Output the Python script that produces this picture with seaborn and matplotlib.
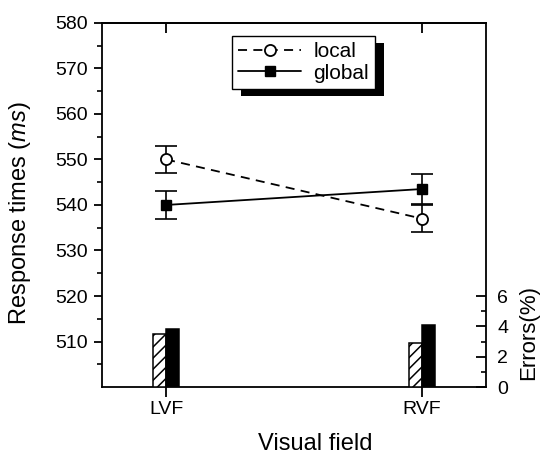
import numpy as np
import pandas as pd
import matplotlib
matplotlib.use("Agg")
import matplotlib.pyplot as plt
from matplotlib.patches import Rectangle
import seaborn as sns

# data
fields = ["LVF", "RVF"]
conditions = ["local", "global"]
rt_local = [550, 537]
rt_global = [540, 543.5]
se_local = [3, 3]
se_global = [3, 3.2]
err_local = [3.5, 2.9]
err_global = [3.8, 4.1]

sns.set_theme(style="ticks", rc={
    "axes.edgecolor": "black", "xtick.color": "black", "ytick.color": "black",
    "text.color": "black", "axes.labelcolor": "black",
})
plt.rcParams["font.family"] = ["Liberation Sans", "DejaVu Sans"]
plt.rcParams["mathtext.fontset"] = "custom"
plt.rcParams["mathtext.rm"] = "Liberation Sans"
plt.rcParams["mathtext.it"] = "Liberation Sans:italic"
plt.rcParams["hatch.linewidth"] = 1.1

fig = plt.figure(figsize=(5.46, 4.57), dpi=100)
ax = fig.add_axes([0.187, 0.153, 0.703, 0.797])
x = np.arange(len(fields))

# error rates as bars on the right axis
ax2 = ax.twinx()
err_df = pd.DataFrame({
    "field": fields * 2,
    "condition": ["local"] * 2 + ["global"] * 2,
    "errors": err_local + err_global,
})
sns.barplot(data=err_df, x="field", y="errors", hue="condition", hue_order=conditions,
            palette={"local": "white", "global": "black"}, saturation=1, width=0.1,
            edgecolor="black", linewidth=1.1, errorbar=None, legend=False, ax=ax2)
for p in ax2.patches:
    if p.get_facecolor()[0] > 0.5:
        p.set_hatch("///")

# response times
ax.errorbar(x, rt_local, yerr=se_local, fmt="none", ecolor="black",
            elinewidth=1.2, capsize=8, capthick=1.2, zorder=2)
ax.errorbar(x, rt_global, yerr=se_global, fmt="none", ecolor="black",
            elinewidth=1.2, capsize=8, capthick=1.2, zorder=2)
ax.plot(x, rt_local, ls=(0, (5, 3.5)), lw=1.3, color="black", marker="o", ms=8,
        mfc="white", mec="black", mew=1.3, label="local", zorder=3)
ax.plot(x, rt_global, ls="-", lw=1.3, color="black", marker="s", ms=7.5,
        mfc="black", mec="black", label="global", zorder=3)

ax.set_xlim(-0.25, 1.25)
ax.set_ylim(500, 580)
ax.set_xticks(x, fields, fontsize=14)
ax.set_yticks(range(510, 581, 10))
ax.set_yticks(range(505, 580, 10), minor=True)
ax.tick_params(axis="y", which="major", direction="out", length=6, width=1.3, pad=4, labelsize=14)
ax.tick_params(axis="y", which="minor", direction="out", length=3.5, width=1.2)
ax.tick_params(axis="x", direction="out", length=7, width=1.3, pad=3)
for s in ax.spines.values():
    s.set_visible(True)
    s.set_linewidth(1.3)

secx = ax.secondary_xaxis("top")
secx.set_xticks(x)
secx.tick_params(direction="in", length=7, width=1.3, labeltop=False)
secx.spines["top"].set_linewidth(1.3)

ax2.set_xlim(-0.25, 1.25)
ax2.set_ylim(0, 24)
ax2.set_yticks([0, 2, 4, 6])
ax2.set_yticks([1, 3, 5], minor=True)
ax2.tick_params(axis="y", which="major", direction="in", length=7, width=1.3, pad=8, labelsize=14)
ax2.tick_params(axis="y", which="minor", direction="in", length=3.5, width=1.2)
for s in ax2.spines.values():
    s.set_visible(False)
ax2.set_ylabel("Errors(%)", fontsize=16)
ax2.yaxis.set_label_coords(1.085, 0.151)

ax.set_xlabel("Visual field", fontsize=17)
ax.xaxis.set_label_coords(0.555, -0.126)
ax.set_ylabel("Response times ($\\mathit{ms}$)", fontsize=17)
ax.yaxis.set_label_coords(-0.18, 0.477)

leg = ax.legend(loc="upper left", bbox_to_anchor=(0.339, 0.964), borderaxespad=0,
                fancybox=False, framealpha=1, edgecolor="black", fontsize=15,
                handlelength=3.0, handletextpad=0.6, borderpad=0.3, labelspacing=0.12)
leg.get_frame().set_linewidth(1.0)
leg.set_zorder(5)

# solid black drop shadow behind the legend box
fig.canvas.draw()
bb = leg.get_window_extent().transformed(ax.transAxes.inverted())
ax.add_patch(Rectangle((bb.x0 + 9 / 384, bb.y0 - 7 / 364), bb.width, bb.height,
                       transform=ax.transAxes, facecolor="black", edgecolor="none",
                       zorder=4.9, clip_on=False))

fig.savefig("out.png", dpi=100)
